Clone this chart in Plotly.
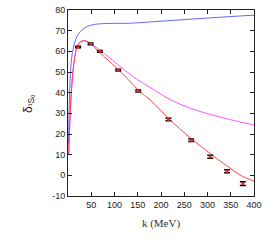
import plotly.graph_objects as go

# Data points (k in MeV, phase shift in degrees)
data_k = [21.7, 48.5, 68.5, 108, 151, 216, 265, 306, 342, 376]
data_delta = [62.1, 63.6, 60.0, 50.9, 40.8, 27.0, 17.0, 9.0, 2.0, -4.0]
data_err = [0.4, 0.4, 0.4, 0.4, 0.5, 0.6, 0.6, 0.7, 0.7, 0.9]

# Red curve
red_k = [1.5, 3, 5, 8, 12, 16, 20, 25, 30, 36, 42, 50, 60, 70, 87, 106, 130, 150, 180,
         216, 240, 265, 305, 342, 376, 400]
red_delta = [10, 20, 31, 43, 53, 59, 62.5, 64.3, 65, 65.1, 64.6, 63.4, 61.2, 59, 55.6, 51.6,
             46.3, 41.5, 35.8, 27.6, 22.6, 17.8, 10.7, 4.5, -0.6, -2.7]

# Magenta curve
mag_k = [1.5, 3, 5, 8, 12, 16, 20, 25, 30, 36, 42, 50, 60, 70, 87, 106, 133, 150, 176,
         209, 240, 277, 310, 341, 370, 400]
mag_delta = [10, 20, 31, 43, 53, 59, 62.5, 64.3, 65, 65.1, 64.7, 63.6, 62.0, 60.3, 57.3, 53.8,
             49.0, 46.2, 42.6, 38.0, 34.5, 31.4, 29.2, 27.4, 25.8, 24.4]

# Blue curve
blue_k = [1.0, 2, 3, 4.5, 7, 10, 14, 19, 26, 37, 47, 59, 84, 133, 200, 267, 333, 400]
blue_delta = [15, 27, 36, 46, 55, 60, 64, 67, 69.5, 71.5, 72.5, 73.1, 73.5, 73.6,
              74.6, 75.6, 76.6, 77.5]

x_ticks = [50, 100, 150, 200, 250, 300, 350, 400]
y_ticks = [-10, 0, 10, 20, 30, 40, 50, 60, 70, 80]

fig = go.Figure()
fig.add_trace(go.Scatter(x=blue_k, y=blue_delta, mode="lines", line=dict(color="#6666ff", width=1), line_shape="spline", showlegend=False))
fig.add_trace(go.Scatter(x=mag_k, y=mag_delta, mode="lines", line=dict(color="#ff55ff", width=1), line_shape="spline", showlegend=False))
fig.add_trace(go.Scatter(x=red_k, y=red_delta, mode="lines", line=dict(color="#ff4444", width=1), line_shape="spline", showlegend=False))
fig.add_trace(go.Scatter(x=data_k, y=data_delta, mode="markers",
                         marker=dict(color="#ee2222", size=3, symbol="square"),
                         error_y=dict(type="data", array=data_err, color="black", thickness=1.5, width=3),
                         showlegend=False))

axis_common = dict(showline=True, linecolor="#222222", linewidth=1, mirror="ticks",
                   ticks="inside", ticklen=4, tickcolor="#222222", showgrid=False, zeroline=False,
                   automargin=False,
                   tickfont=dict(family="Liberation Sans, Arial, sans-serif", size=9, color="#222222"))

fig.update_xaxes(range=[0, 400], tickvals=x_ticks, ticktext=[str(v) for v in x_ticks],
                 title=dict(text="k (MeV)", font=dict(family="Liberation Serif, Times New Roman, serif", size=11, color="#333333"), standoff=10),
                 **axis_common)
fig.update_yaxes(range=[-10, 80], tickvals=y_ticks, ticktext=[str(v) for v in y_ticks], **axis_common)

fig.add_annotation(text="δ<sub>¹S₀</sub>", xref="paper", yref="paper", x=-0.21, y=0.5,
                   xanchor="center", yanchor="middle",
                   showarrow=False, textangle=-90,
                   font=dict(family="Liberation Sans, Arial, sans-serif", size=12, color="#222222"))

fig.update_layout(width=275, height=245, margin=dict(l=68, r=21, t=10, b=49),
                  plot_bgcolor="white", paper_bgcolor="white")

fig.write_html("out.html", config={"displayModeBar": False},
               post_script="document.body.style.margin='0';")
